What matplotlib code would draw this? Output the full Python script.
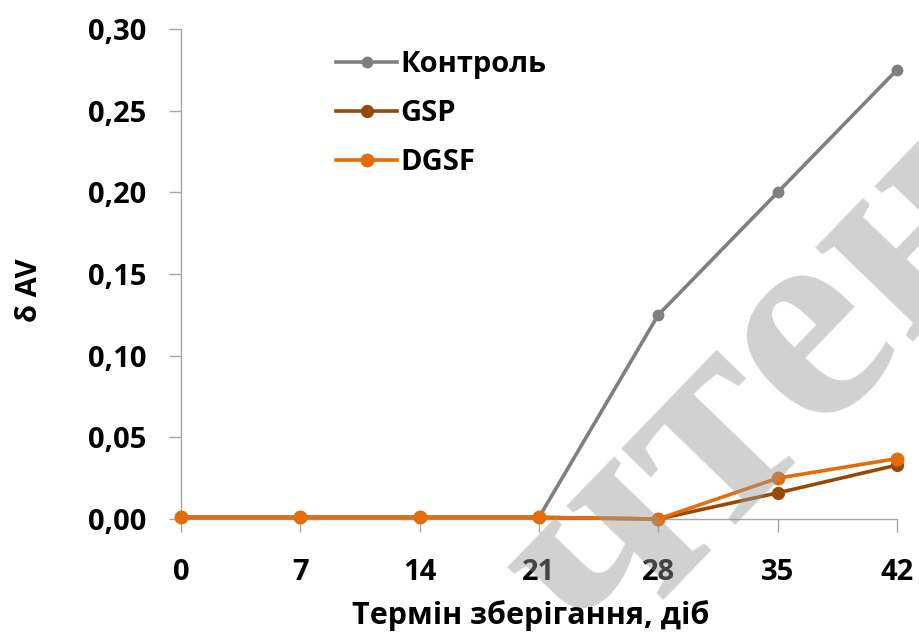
import matplotlib
matplotlib.use("Agg")
import matplotlib.pyplot as plt
from matplotlib.ticker import FuncFormatter

# storage term, days
days = [0, 7, 14, 21, 28, 35, 42]
series_names = ["Контроль", "GSP", "DGSF"]
control = [0.001, 0.001, 0.001, 0.001, 0.125, 0.200, 0.275]
gsp = [0.001, 0.001, 0.001, 0.001, 0.000, 0.016, 0.033]
dgsf = [0.001, 0.001, 0.001, 0.001, 0.000, 0.025, 0.037]
y_ticks = [0.00, 0.05, 0.10, 0.15, 0.20, 0.25, 0.30]

colors = ["#7F7F7F", "#974806", "#E46C0A"]
font = "Open Sans"

fig = plt.figure(figsize=(9.2, 6.35), dpi=100)
ax = fig.add_axes([181 / 920, 1 - 519 / 635, (897 - 181) / 920, (519 - 29) / 635])

for name, values, color, ms in zip(series_names, [control, gsp, dgsf], colors, [7.5, 8.5, 9]):
    ax.plot(days, values, color=color, lw=2.6, marker="o", markersize=ms,
            label=name, clip_on=False, zorder=3)

ax.set_xlim(days[0], days[-1])
ax.set_ylim(0, 0.30)
ax.set_xticks(days)
ax.set_yticks(y_ticks)
ax.yaxis.set_major_formatter(FuncFormatter(lambda v, p: f"{v:.2f}".replace(".", ",")))

for side in ["top", "right"]:
    ax.spines[side].set_visible(False)
for side in ["left", "bottom"]:
    ax.spines[side].set_color("#A6A6A6")
    ax.spines[side].set_linewidth(1.0)
ax.tick_params(axis="both", colors="#A6A6A6", length=9, width=1.0, direction="out")
ax.tick_params(axis="y", pad=16, labelcolor="black")
ax.tick_params(axis="x", pad=19, labelcolor="black")
for lab in ax.get_xticklabels() + ax.get_yticklabels():
    lab.set_fontfamily(font)
    lab.set_fontweight("bold")
    lab.set_fontsize(21)

fig.text(30 / 920, 1 - 290 / 635, "δ AV", rotation=90, ha="center", va="center",
         fontsize=21, fontweight="bold", fontfamily=font)
fig.text(531 / 920, 1 - 616 / 635, "Термін зберігання, діб", ha="center", va="center",
         fontsize=22, fontweight="bold", fontfamily=font)

leg = ax.legend(loc="upper left", bbox_to_anchor=(336 / 920, 1 - 50 / 635),
                bbox_transform=fig.transFigure, frameon=False, borderpad=0,
                borderaxespad=0, handlelength=2.1, handletextpad=0.12,
                labelspacing=0.69, prop={"family": font, "weight": "bold", "size": 21})

# watermark
fig.text(762 / 920, 1 - 392 / 635, "чтен", rotation=46, ha="center", va="center",
         fontsize=212, fontweight="bold", fontfamily="Liberation Serif",
         color="#999999", alpha=0.45, zorder=10)

fig.savefig("out.png", dpi=100)
